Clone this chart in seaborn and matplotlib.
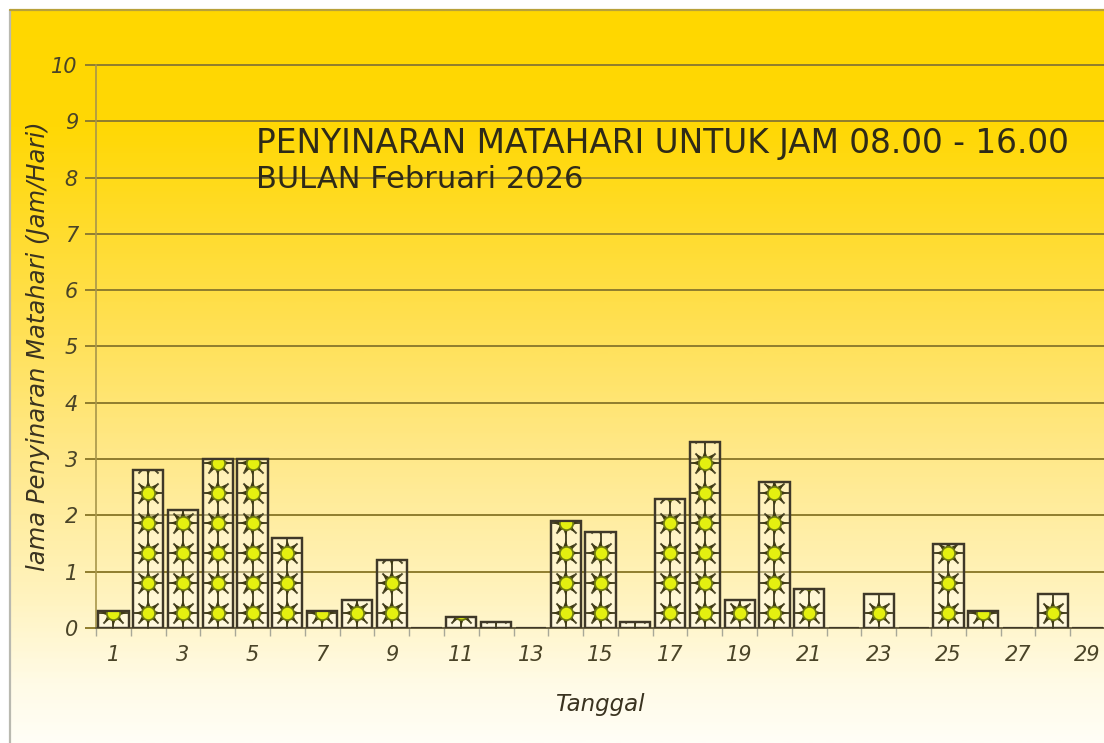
import numpy as np
import matplotlib
matplotlib.use("Agg")
import matplotlib.pyplot as plt
from matplotlib.colors import LinearSegmentedColormap
from matplotlib.patches import Rectangle
import pandas as pd
import seaborn as sns

days = [str(d) for d in range(1, 30)]
hours = [0.3, 2.8, 2.1, 3.0, 3.0, 1.6, 0.3, 0.5, 1.2, 0.0, 0.2, 0.1, 0.0, 1.9, 1.7,
         0.1, 2.3, 3.3, 0.5, 2.6, 0.7, 0.0, 0.6, 0.0, 1.5, 0.3, 0.0, 0.6, 0.0]
title_lines = ["PENYINARAN MATAHARI UNTUK JAM 08.00 - 16.00", "BULAN Februari 2026"]
xlabel = "Tanggal"
ylabel = "lama Penyinaran Matahari (Jam/Hari)"

W, H = 1104, 743
INK = "#4a4428"
GRID = "#8f7d2e"

sns.set_theme(style="white")
plt.rcParams["font.family"] = ["DejaVu Sans"]
fig = plt.figure(figsize=(W / 100, H / 100), dpi=100, facecolor="white")

bg = fig.add_axes([10 / W, 0, 1 - 10 / W, 1 - 10 / H], zorder=0)
cmap = LinearSegmentedColormap.from_list("sun", [
    (0.00, "#FFD700"), (0.16, "#FFD805"), (0.40, "#FFDF4A"), (0.60, "#FFE887"),
    (0.80, "#FFF3BE"), (0.92, "#FFFBE6"), (1.00, "#FFFEF6")])
bg.imshow(np.linspace(0, 1, 400)[:, None], aspect="auto", cmap=cmap, vmin=0, vmax=1)
bg.set_axis_off()
fig.add_artist(plt.Line2D([10 / W, 10 / W], [0, 1 - 10 / H], color="#b9b9b0", lw=1.6))
fig.add_artist(plt.Line2D([10 / W, 1], [1 - 10 / H, 1 - 10 / H], color="#b8a13a", lw=1.6))

ax = fig.add_axes([96 / W, 1 - 628 / H, 1009 / W, 563 / H], zorder=1)
ax.patch.set_alpha(0)
df = pd.DataFrame({"day": days, "hours": hours})
sns.barplot(data=df, x="day", y="hours", order=days, width=0.87, ax=ax,
            color="white", saturation=1, edgecolor="#3f3828", linewidth=1.6, zorder=3)
ax.set_ylim(0, 10)
ax.set_xlim(-0.5, 28.5)

step = 30 / (563 / 10)
for patch in list(ax.patches):
    patch.set_facecolor((1, 1, 1, 0.35))
    top = patch.get_height()
    if top <= 0:
        continue
    cx = patch.get_x() + patch.get_width() / 2
    ys = np.arange(step / 2, top + step, step)
    xs = np.full_like(ys, cx)
    clip = Rectangle((patch.get_x(), 0), patch.get_width(), top, transform=ax.transData)
    lattice = ax.scatter(xs, ys, marker="+", s=620, color="#4f4a2c", linewidths=1.4, zorder=4)
    spokes = ax.scatter(xs, ys, marker="x", s=210, color="#4f4a2c", linewidths=1.4, zorder=4)
    rays = ax.scatter(xs, ys, marker=(8, 1, 0), s=340, facecolor="#3f3a14", edgecolor="none", zorder=5)
    core = ax.scatter(xs, ys, marker="o", s=92, facecolor="#e4f010", edgecolor="#6f7a10",
                      linewidths=1.3, zorder=6)
    for art in (lattice, spokes, rays, core):
        art.set_clip_path(clip)
    ax.add_patch(Rectangle((patch.get_x(), 0), patch.get_width(), top, fill=False,
                           edgecolor="#3f3828", lw=1.6, zorder=7))

ax.set_yticks(range(0, 11))
ax.yaxis.grid(True, color=GRID, lw=1.4, zorder=1, clip_on=False)
ax.set_axisbelow(True)
ax.set_xticks(range(0, 29, 2), days[::2])
ax.set_xticks(np.arange(-0.5, 29, 1), minor=True)
ax.tick_params(axis="x", which="major", length=0, pad=12, labelsize=15, colors=INK)
ax.tick_params(axis="x", which="minor", length=6, width=1, color="#a8a898", bottom=True)
ax.tick_params(axis="y", which="major", length=8, width=1.4, color=GRID, left=True,
               pad=5, labelsize=15, labelcolor=INK)
for lab in ax.get_xticklabels() + ax.get_yticklabels():
    lab.set_fontstyle("oblique")
for s in ("top", "right"):
    ax.spines[s].set_visible(False)
ax.spines["left"].set_color("#a8964a")
ax.spines["left"].set_linewidth(1.2)
ax.spines["bottom"].set_color("#6b6344")
ax.spines["bottom"].set_linewidth(1.4)
ax.set_xlabel("")
ax.set_ylabel("")

fig.text(600 / W, 1 - 705 / H, xlabel, ha="center", va="center", fontsize=16.5,
         style="oblique", color="#3a3320")
fig.text(38 / W, 1 - 346 / H, ylabel, ha="center", va="center", rotation=90, fontsize=17.5,
         style="oblique", color="#3a3320")
fig.text(256 / W, 1 - 143 / H, title_lines[0], ha="left", va="center", fontsize=23.6, color="#2e2a18")
fig.text(256 / W, 1 - 179 / H, title_lines[1], ha="left", va="center", fontsize=22, color="#2e2a18")

fig.savefig("out.png", dpi=100)
